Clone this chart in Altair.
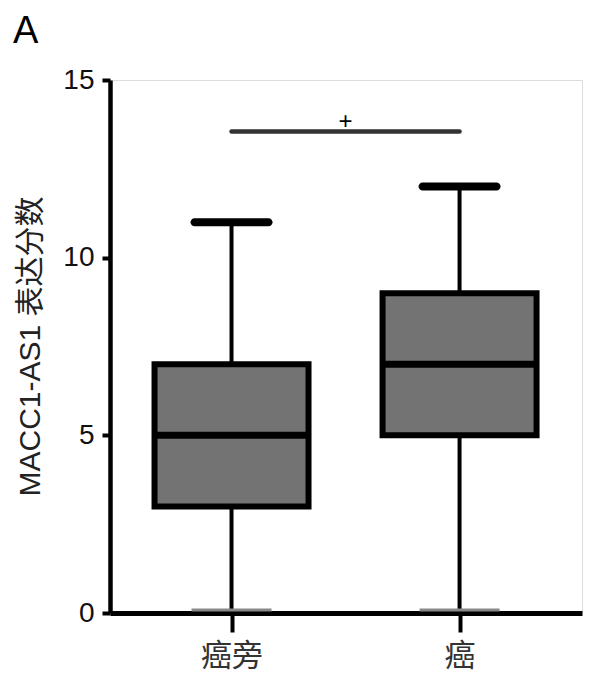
import altair as alt
import pandas as pd

# ---- data ----
categories = ["癌旁", "癌"]
positions = [1, 2]
whisker_low = [0, 0]
q1 = [3, 5]
medians = [5, 7]
q3 = [7, 9]
whisker_high = [11, 12]

sig_from = [1]
sig_to = [2]
sig_y = [13.55]
sig_mid = [1.5]
sig_label = ["+"]

y_ticks = [0, 5, 10, 15]

box = pd.DataFrame({
    "cat": categories, "pos": positions, "lo": whisker_low,
    "q1": q1, "med": medians, "q3": q3, "hi": whisker_high,
})
sig = pd.DataFrame({"x1": sig_from, "x2": sig_to, "y": sig_y, "xm": sig_mid, "t": sig_label})

LATIN = "Liberation Sans, Arial, Noto Sans CJK SC"
CJK = "Noto Sans CJK SC"

label_expr = " : ".join(
    f"datum.value == {p} ? '{c}'" for p, c in zip(positions[:-1], categories[:-1])
) + f" : '{categories[-1]}'"

x_scale = alt.Scale(domain=[0.489, 2.515], nice=False, zero=False)
y_scale = alt.Scale(domain=[0, 15], nice=False)

x_axis = alt.Axis(
    values=positions, labelExpr=label_expr, title=None, grid=False,
    domainColor="black", domainWidth=5, tickColor="black", tickWidth=4, tickSize=19,
    labelFont=CJK, labelFontSize=31, labelColor="#333", labelPadding=9,
)
y_axis = alt.Axis(
    values=y_ticks, title="MACC1-AS1 表达分数", grid=False,
    domainColor="black", domainWidth=4.5, tickColor="black", tickWidth=4, tickSize=8,
    labelFont=LATIN, labelFontSize=28, labelColor="#111", labelPadding=8,
    titleFont=LATIN, titleFontSize=30, titleFontWeight="normal", titleColor="#222",
    titleAngle=-90, titleX=-80, titleY=266, titleAlign="center", titleBaseline="middle",
)

base = alt.Chart(box)

whisker = base.mark_rule(color="black", strokeWidth=4).encode(
    x=alt.X("pos:Q", scale=x_scale, axis=x_axis),
    y=alt.Y("lo:Q", scale=y_scale, axis=y_axis),
    y2="hi:Q",
)
boxes = base.mark_bar(size=154, color="#737373", stroke="black", strokeWidth=6, opacity=1).encode(
    x=alt.X("pos:Q", scale=x_scale),
    y=alt.Y("q1:Q", scale=y_scale),
    y2="q3:Q",
)
median = base.mark_tick(orient="horizontal", size=154, thickness=7, color="black", opacity=1).encode(
    x=alt.X("pos:Q", scale=x_scale),
    y=alt.Y("med:Q", scale=y_scale),
)
cap_hi = base.mark_tick(orient="horizontal", size=82, thickness=8, color="black",
                        cornerRadius=4, opacity=1).encode(
    x=alt.X("pos:Q", scale=x_scale),
    y=alt.Y("hi:Q", scale=y_scale),
)
cap_lo = base.mark_tick(orient="horizontal", size=80, thickness=3, color="#888", opacity=1,
                        yOffset=-3).encode(
    x=alt.X("pos:Q", scale=x_scale),
    y=alt.Y("lo:Q", scale=y_scale),
)

sig_line = alt.Chart(sig).mark_rule(color="#333", strokeWidth=4.5, strokeCap="round").encode(
    x=alt.X("x1:Q", scale=x_scale),
    x2="x2:Q",
    y=alt.Y("y:Q", scale=y_scale),
)
sig_text = alt.Chart(sig).mark_text(
    font=LATIN, fontSize=24, color="black", baseline="bottom", dy=2
).encode(
    x=alt.X("xm:Q", scale=x_scale),
    y=alt.Y("y:Q", scale=y_scale),
    text="t:N",
)

chart = alt.layer(whisker, boxes, median, cap_hi, cap_lo, sig_line, sig_text).properties(
    width=472, height=533,
    title=alt.TitleParams(
        "A", anchor="start", frame="group", font=LATIN, fontSize=38,
        fontWeight="normal", color="black", dx=-97, offset=15,
    ),
    autosize=alt.AutoSizeParams(type="none"),
    padding={"left": 102, "top": 72, "right": 7, "bottom": 70},
).configure_view(stroke=None).configure(background="white")

chart.save("out.html", embed_options={"renderer": "svg", "actions": False})
